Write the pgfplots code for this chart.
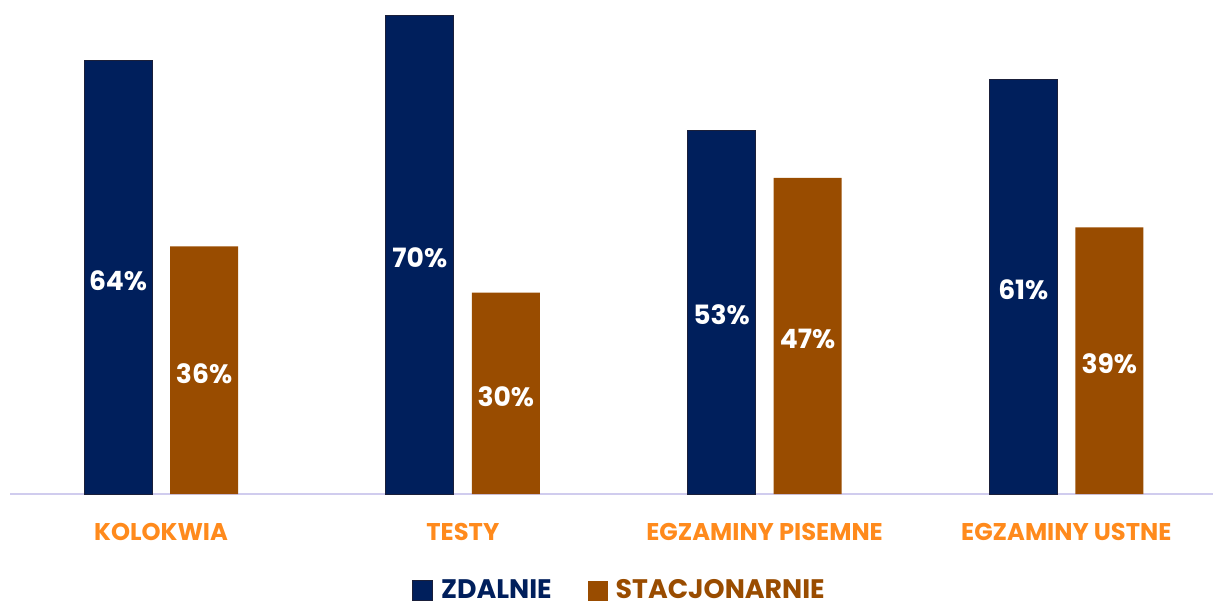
\documentclass[border=0pt]{standalone}
\usepackage{fontspec}
\setmainfont{Poppins}
\usepackage{pgfplots}
\pgfplotsset{compat=1.18}
\usetikzlibrary{calc}
\definecolor{navy}{HTML}{001F5C}
\definecolor{navyedge}{HTML}{1A1F3A}
\definecolor{brown}{HTML}{994C00}
\definecolor{orangelab}{HTML}{FF8A1C}
\definecolor{lav}{HTML}{D0CCEE}
\begin{document}
\begin{tikzpicture}
\begin{axis}[
  name=ax,
  scale only axis,
  width=603.5pt, height=247pt,
  ymin=0, ymax=72.65,
  xmin=-0.5, xmax=3.5,
  ybar=9pt, bar width=34pt,
  axis x line*=bottom, axis y line=none,
  x axis line style={draw=lav, line width=1pt},
  xtick=data,
  xticklabels={KOLOKWIA, TESTY, EGZAMINY PISEMNE, EGZAMINY USTNE},
  major tick length=0pt,
  xticklabel style={font=\fontsize{12.1}{14}\selectfont\bfseries, text=orangelab, anchor=base, yshift=-23pt},
  point meta=explicit symbolic,
  visualization depends on=rawy \as \rawy,
  nodes near coords,
  every node near coord/.append style={font=\fontsize{13.3}{15}\selectfont\bfseries, text=white, anchor=center, yshift=-\rawy*1.7pt-1.5pt},
  legend columns=2,
  legend style={draw=none, at={(0.504,-0.1955)}, anchor=center, font=\fontsize{13.4}{15}\selectfont\bfseries,
    nodes={inner sep=0pt},
    /tikz/every odd column/.append style={column sep=4pt},
    /tikz/every even column/.append style={column sep=18pt}, inner sep=0pt, cells={anchor=west}},
  legend image code/.code={\fill[#1] (0pt,-5pt) rectangle (10pt,5pt);},
  clip=false,
]
\addplot[fill=navy, draw=navyedge, line width=0.4pt] coordinates {(0,63.7) [64\%] (1,70.4) [70\%] (2,53.5) [53\%] (3,60.9) [61\%]};
\addlegendentry{\textcolor{navy}{ZDALNIE}}
\addplot[fill=brown, draw=none] coordinates {(0,36.4) [36\%] (1,29.6) [30\%] (2,46.5) [47\%] (3,39.2) [39\%]};
\addlegendentry{\textcolor{brown}{STACJONARNIE}}
\end{axis}
\pgfresetboundingbox
\path[use as bounding box] ($(ax.south west)+(-5.1pt,-55.5pt)$) rectangle ($(ax.north east)+(-2.1pt,0pt)$);
\end{tikzpicture}
\end{document}
